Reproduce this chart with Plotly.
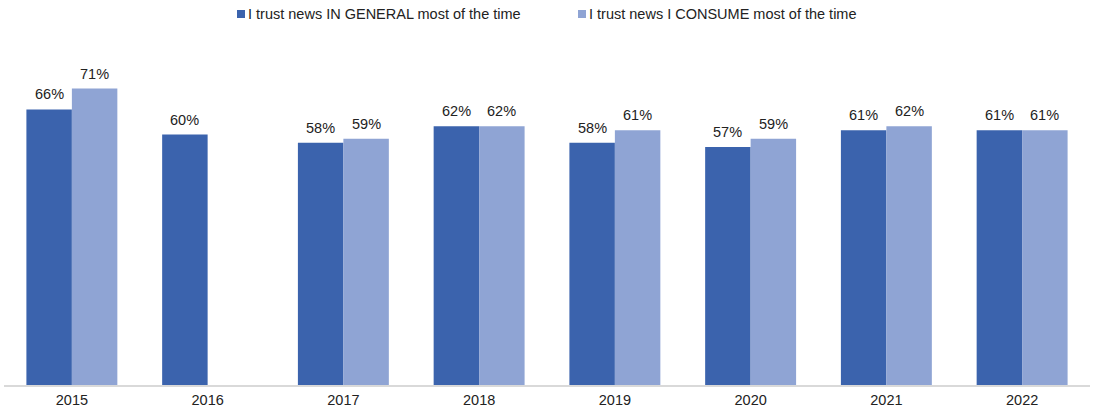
import plotly.graph_objects as go

years = ["2015", "2016", "2017", "2018", "2019", "2020", "2021", "2022"]
trust_general = [66, 60, 58, 62, 58, 57, 61, 61]
trust_consume = [71, None, 59, 62, 61, 59, 62, 61]

series_names = [
    "I trust news IN GENERAL most of the time",
    "I trust news I CONSUME most of the time",
]
colors = ["#3B63AD", "#8FA4D4"]

FONT = "Liberation Sans, Arial, sans-serif"
FS = 14.5
TXT = "#222222"

W, H = 1094, 412
ML, MR, MT, MB = 4, 4, 51, 27
PW, PH = W - ML - MR, H - MT - MB


def px_x(px):
    return (px - ML) / PW


def px_y(py):
    return (H - MB - py) / PH


fig = go.Figure()
for i, (name, vals, col) in enumerate(zip(series_names, [trust_general, trust_consume], colors)):
    fig.add_trace(go.Bar(
        x=years,
        y=vals,
        name=name,
        offsetgroup=str(i),
        marker=dict(color=col, line=dict(width=0)),
        showlegend=False,
    ))

# value labels above each bar, offset to sit inside the matching group slot
bar_offset = 0.335 * 0.5
for vals, sign in [(trust_general, -1), (trust_consume, 1)]:
    for idx, v in enumerate(vals):
        if v is None:
            continue
        fig.add_annotation(
            x=idx + sign * bar_offset,
            y=v,
            xref="x",
            yref="y",
            text=f"{v}%",
            showarrow=False,
            yanchor="bottom",
            yshift=5,
            font=dict(family=FONT, size=FS, color=TXT),
        )

# legend drawn as swatches + labels across the top
legend_items = [(237, series_names[0], colors[0]), (578, series_names[1], colors[1])]
for x0, label, col in legend_items:
    fig.add_shape(
        type="rect",
        xref="paper", yref="paper",
        x0=px_x(x0), x1=px_x(x0 + 8),
        y0=px_y(18), y1=px_y(10),
        fillcolor=col, line=dict(width=0),
    )
    fig.add_annotation(
        x=px_x(x0 + 9), y=px_y(14),
        xref="paper", yref="paper",
        text=label, showarrow=False,
        xanchor="left", yanchor="middle",
        font=dict(family=FONT, size=FS, color=TXT),
    )

fig.update_layout(
    width=W,
    height=H,
    barmode="group",
    bargap=0.33,
    bargroupgap=0,
    plot_bgcolor="white",
    paper_bgcolor="white",
    margin=dict(l=ML, r=MR, t=MT, b=MB, autoexpand=False),
    font=dict(family=FONT, size=FS, color=TXT),
    showlegend=False,
    xaxis=dict(
        type="category",
        automargin=False,
        showline=True,
        linecolor="#D9D9D9",
        linewidth=1.5,
        ticks="",
        showgrid=False,
        ticklabelstandoff=1,
        tickfont=dict(family=FONT, size=FS, color=TXT),
    ),
    yaxis=dict(
        range=[0, 80],
        visible=False,
        showgrid=False,
        zeroline=False,
        automargin=False,
    ),
)

fig.write_html("out.html")
